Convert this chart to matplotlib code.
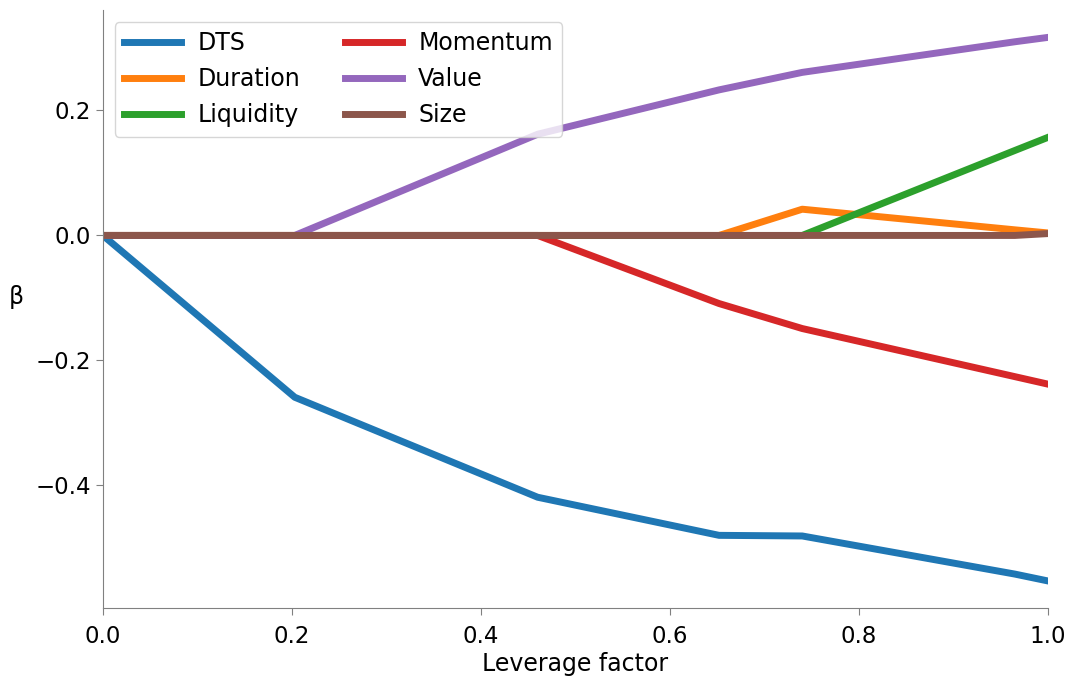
import matplotlib.pyplot as plt

leverage = [0.0, 0.203, 0.46, 0.652, 0.74, 0.965, 1.0]
dts = [0.0, -0.259, -0.419, -0.48, -0.481, -0.542, -0.553]
duration = [0.0, 0.0, 0.0, 0.0, 0.042, 0.009, 0.004]
liquidity = [0.0, 0.0, 0.0, 0.0, 0.0, 0.136, 0.157]
momentum = [0.0, 0.0, 0.0, -0.109, -0.149, -0.226, -0.238]
value = [0.0, 0.0, 0.162, 0.233, 0.261, 0.310, 0.317]
size = [0.0, 0.0, 0.0, 0.0, 0.0, 0.0, 0.003]

series = [("DTS", dts), ("Duration", duration), ("Liquidity", liquidity),
          ("Momentum", momentum), ("Value", value), ("Size", size)]

plt.rcParams['font.size'] = 17
fig = plt.figure(figsize=(10.69, 6.81), dpi=100)
ax = fig.add_axes([0.0963, 0.107, 0.884, 0.878])

for name, vals in series:
    ax.plot(leverage, vals, lw=5, label=name)

ax.set_xlim(0, 1)
ax.margins(x=0, y=0.05)
ax.set_xlabel("Leverage factor", labelpad=3)
ax.set_ylabel("β", rotation=0, labelpad=14)

for s in ["top", "right"]:
    ax.spines[s].set_visible(False)
for s in ["left", "bottom"]:
    ax.spines[s].set_color("gray")
ax.tick_params(colors="gray", labelcolor="black", labelsize=16.5, length=5)
ax.tick_params(axis="x", pad=7)

ax.legend(ncol=2, loc="upper left", fontsize=17, handlelength=2.4,
          handletextpad=0.7, labelspacing=0.5, columnspacing=1.9)

plt.savefig("out.png")
